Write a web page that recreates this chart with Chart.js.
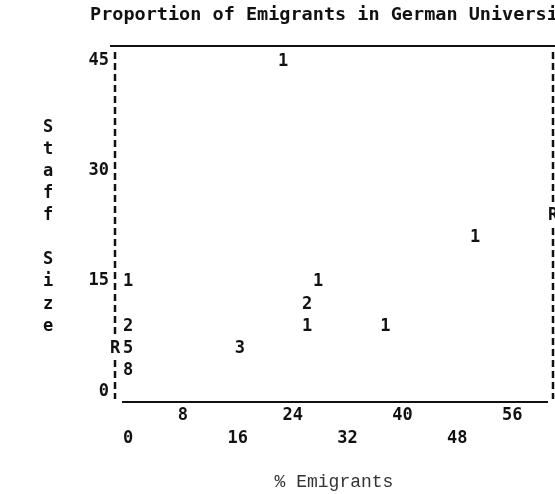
<!DOCTYPE html>
<html>
<head>
<meta charset="utf-8">
<script src="https://cdn.jsdelivr.net/npm/chart.js@4.4.1/dist/chart.umd.min.js"></script>
<style>
  html, body { margin: 0; padding: 0; background: #fff; }
  #wrap { width: 555px; height: 494px; }
</style>
</head>
<body>
<div id="wrap"><canvas id="c" width="555" height="494"></canvas></div>
<script>
// ---- data ----
const emigrantPct = [22.6, 50.6, 27.7, 26.1, 26.1, 37.5, 16.3, 0, 0, 0, 0];
const staffSize   = [45, 21, 15, 12, 9, 9, 6, 15, 9, 6, 3];
const caseCount   = ['1', '1', '1', '2', '1', '1', '3', '1', '2', '5', '8'];
const regressionX = [-1.9, 61.95];
const regressionY = [6, 24];
const xTicks = [0, 8, 16, 24, 32, 40, 48, 56];
const yTicks = [0, 15, 30, 45];
const yTitleLetters = ['S', 't', 'a', 'f', 'f', '', 'S', 'i', 'z', 'e'];
const chartTitle = 'Proportion of Emigrants in German Universities';
const xTitle = '% Emigrants';

const FAM = '"DejaVu Sans Mono", "Liberation Mono", monospace';
const FAM_LIGHT = '"Liberation Mono", "Courier New", monospace';
const INK = '#111';
const X_MIN = -1.9, X_MAX = 61.95, Y_MIN = -1.43, Y_MAX = 46.94;

const printerText = {
  id: 'printerText',
  afterLayout(chart) {
    if (chart.titleBlock) {
      chart.titleBlock.left = 90;
      chart.titleBlock.right = 700;
    }
  },
  beforeDatasetsDraw(chart) {
    const ctx = chart.ctx;
    const a = chart.chartArea;
    ctx.save();
    ctx.strokeStyle = INK;
    // solid top and bottom frame lines (printer underscores)
    ctx.lineWidth = 2;
    ctx.beginPath();
    ctx.moveTo(a.left - 5, a.top);
    ctx.lineTo(chart.width, a.top);
    ctx.moveTo(a.left + 7, a.bottom);
    ctx.lineTo(a.right - 5, a.bottom);
    ctx.stroke();
    // dashed side frames (printer "!" columns)
    ctx.lineWidth = 2.5;
    ctx.setLineDash([7, 4]);
    [a.left, a.right].forEach(px => {
      ctx.beginPath();
      ctx.moveTo(px, a.top + 6);
      ctx.lineTo(px, a.bottom - 3);
      ctx.stroke();
    });
    ctx.restore();
  },
  afterDatasetsDraw(chart) {
    const ctx = chart.ctx;
    ctx.save();
    ctx.font = 'bold 17px ' + FAM;
    ctx.textAlign = 'center';
    ctx.textBaseline = 'middle';
    chart.data.datasets.forEach((ds, i) => {
      const meta = chart.getDatasetMeta(i);
      meta.data.forEach((pt, j) => {
        if (ds.knockout) {
          ctx.fillStyle = '#fff';
          ctx.fillRect(pt.x - 6, pt.y - 10, 12, 20);
        }
        ctx.fillStyle = INK;
        ctx.fillText(ds.marks[j], pt.x, pt.y + 1);
      });
    });
    const ys = chart.scales.y;
    ctx.fillStyle = INK;
    yTitleLetters.forEach((ch, i) => {
      ctx.fillText(ch, 48, ys.getPixelForValue(36 - 3 * i) + 1);
    });
    ctx.restore();
  }
};

const noGrid = { display: false, drawTicks: false };

new Chart(document.getElementById('c'), {
  type: 'scatter',
  data: {
    datasets: [
      {
        label: 'Cases',
        data: emigrantPct.map((x, i) => ({ x: x, y: staffSize[i] })),
        marks: caseCount,
        pointRadius: 0,
        pointHoverRadius: 0,
        showLine: false
      },
      {
        label: 'Regression',
        data: regressionX.map((x, i) => ({ x: x, y: regressionY[i] })),
        marks: ['R', 'R'],
        knockout: true,
        pointRadius: 0,
        pointHoverRadius: 0,
        showLine: false
      }
    ]
  },
  options: {
    responsive: false,
    animation: false,
    devicePixelRatio: 1,
    layout: { padding: 0 },
    plugins: {
      legend: { display: false },
      tooltip: { enabled: false },
      title: {
        display: true,
        text: chartTitle,
        align: 'start',
        color: INK,
        font: { family: FAM, size: 18.5, weight: 'bold', lineHeight: 1.2 },
        padding: { top: 4, bottom: 0 }
      }
    },
    scales: {
      x: {
        type: 'linear', position: 'bottom', min: X_MIN, max: X_MAX,
        afterBuildTicks: s => { s.ticks = xTicks.map(v => ({ value: v })); },
        afterFit: s => { s.height = 92; },
        grid: noGrid,
        border: { display: false },
        ticks: {
          padding: 3, color: INK, maxRotation: 0, autoSkip: false,
          font: { family: FAM, size: 17, weight: 'bold', lineHeight: 1.3 },
          callback: v => ((v / 8) % 2 === 1) ? String(v) : ['', String(v)]
        },
        title: {
          display: true, text: xTitle, color: '#333',
          font: { family: FAM_LIGHT, size: 18, weight: 'normal', lineHeight: 1.2 },
          padding: { top: 0, bottom: 1 }
        }
      },
      x2: {
        type: 'linear', position: 'top', min: X_MIN, max: X_MAX,
        afterFit: s => { s.height = 19.8; },
        grid: noGrid,
        border: { display: false },
        ticks: { display: false }
      },
      y: {
        type: 'linear', position: 'left', min: Y_MIN, max: Y_MAX,
        afterBuildTicks: s => { s.ticks = yTicks.map(v => ({ value: v })); },
        afterFit: s => { s.width = 115; },
        grid: noGrid,
        border: { display: false },
        ticks: {
          padding: 6, color: INK,
          font: { family: FAM, size: 17, weight: 'bold' }
        }
      },
      y2: {
        type: 'linear', position: 'right', min: Y_MIN, max: Y_MAX,
        afterFit: s => { s.width = 2; },
        grid: noGrid,
        border: { display: false },
        ticks: { display: false }
      }
    }
  },
  plugins: [printerText]
});
</script>
</body>
</html>
